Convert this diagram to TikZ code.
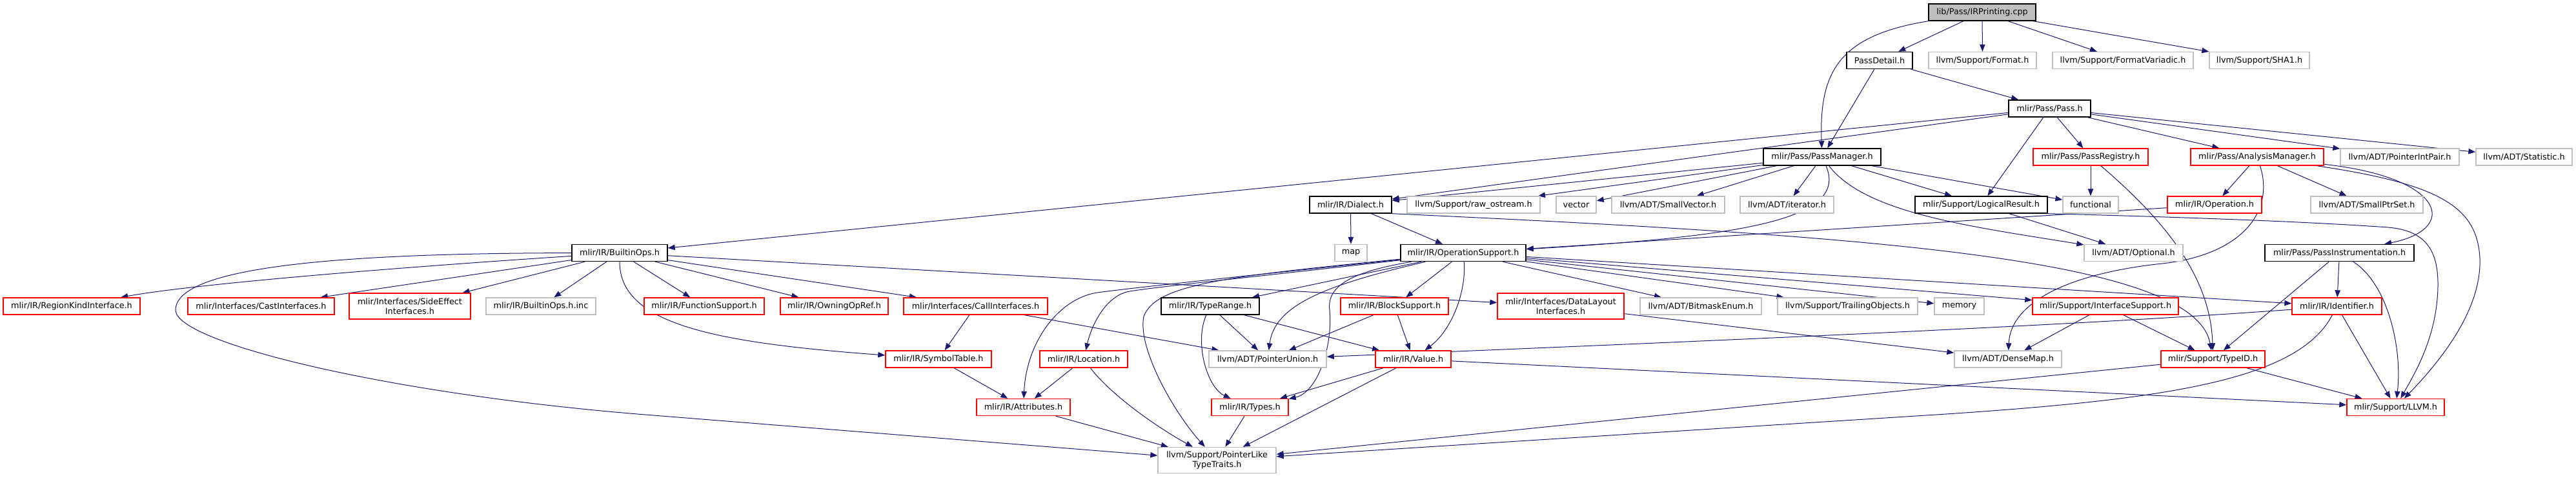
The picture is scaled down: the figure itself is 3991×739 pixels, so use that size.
\documentclass[tikz,border=0pt]{standalone}
\usepackage{fontspec}
\setmainfont{DejaVu Sans}
\usetikzlibrary{arrows.meta}
\definecolor{edgecol}{HTML}{191970}
\definecolor{redc}{HTML}{FF0000}
\definecolor{grayc}{HTML}{BFBFBF}
\pgfdeclarelayer{bg}
\pgfsetlayers{bg,main}
\begin{document}
\begin{tikzpicture}[x=0.5pt,y=-0.5pt,
  box/.style={rectangle, draw, fill=white, line width=0.7pt, inner sep=0pt, minimum height=13pt,
    align=center, font=\fontsize{6.4pt}{7.3pt}\selectfont},
  bw/.style={minimum width=#1*0.5pt},
  blk/.style={box, draw=black},
  redn/.style={box, draw=redc},
  grn/.style={box, draw=grayc},
  root/.style={box, draw=black, fill=grayc},
  two/.style={minimum height=20pt},
  dep/.style={draw=edgecol, line width=0.5pt, -{Triangle[length=5.5pt,width=4.2pt]}}]
\useasboundingbox (0,0) rectangle (3991,739);
% row A
\node[root,bw=166] (ir) at (3071,19) {lib/Pass/IRPrinting.cpp};
% row B
\node[blk,bw=102] (pd) at (2912,93.5) {PassDetail.h};
\node[grn,bw=167] (fmt) at (3071.5,93.5) {llvm/Support/Format.h};
\node[grn,bw=218] (fv) at (3289,93.5) {llvm/Support/FormatVariadic.h};
\node[grn,bw=155] (sha) at (3500.5,93.5) {llvm/Support/SHA1.h};
% row C
\node[blk,bw=127] (pass) at (3175.5,168) {mlir/Pass/Pass.h};
% row D
\node[blk,bw=182] (pm) at (2823,243) {mlir/Pass/PassManager.h};
\node[redn,bw=178] (preg) at (3239,243) {mlir/Pass/PassRegistry.h};
\node[redn,bw=206] (am) at (3497,243) {mlir/Pass/AnalysisManager.h};
\node[grn,bw=184] (pip) at (3718,243) {llvm/ADT/PointerIntPair.h};
\node[grn,bw=149] (stat) at (3910.5,243) {llvm/ADT/Statistic.h};
% row E
\node[blk,bw=127] (dia) at (2092.5,317) {mlir/IR/Dialect.h};
\node[grn,bw=206] (raw) at (2283,317) {llvm/Support/raw\_ostream.h};
\node[grn,bw=62] (vec) at (2442,317) {vector};
\node[grn,bw=175] (sv) at (2584.5,317) {llvm/ADT/SmallVector.h};
\node[grn,bw=145] (iter) at (2768.5,317) {llvm/ADT/iterator.h};
\node[blk,bw=205] (lr) at (3069.5,317) {mlir/Support/LogicalResult.h};
\node[grn,bw=86] (func) at (3239,317) {functional};
\node[redn,bw=146] (op) at (3431,317) {mlir/IR/Operation.h};
\node[grn,bw=174] (sps) at (3667,317) {llvm/ADT/SmallPtrSet.h};
% row F
\node[blk,bw=148] (bo) at (960,391.5) {mlir/IR/BuiltinOps.h};
\node[grn,bw=50] (map) at (2093,391.5) {map};
\node[blk,bw=194] (os) at (2267,391.5) {mlir/IR/OperationSupport.h};
\node[grn,bw=153] (opt) at (3305.5,391.5) {llvm/ADT/Optional.h};
\node[blk,bw=231] (pi) at (3624.5,391.5) {mlir/Pass/PassInstrumentation.h};
% row G
\node[redn,bw=212] (rk) at (111,474) {mlir/IR/RegionKindInterface.h};
\node[redn,bw=227] (ci) at (404.5,474) {mlir/Interfaces/CastInterfaces.h};
\node[redn,bw=188,two] (se) at (635,474) {mlir/Interfaces/SideEffect\\Interfaces.h};
\node[grn,bw=170] (inc) at (838,474) {mlir/IR/BuiltinOps.h.inc};
\node[redn,bw=186] (fs) at (1091,474) {mlir/IR/FunctionSupport.h};
\node[redn,bw=167] (oor) at (1292.5,474) {mlir/IR/OwningOpRef.h};
\node[redn,bw=223] (call) at (1511.5,474) {mlir/Interfaces/CallInterfaces.h};
\node[blk,bw=152] (tr) at (1875,474) {mlir/IR/TypeRange.h};
\node[redn,bw=167] (bs) at (2160.5,474) {mlir/IR/BlockSupport.h};
\node[redn,bw=196,two] (dl) at (2418,474) {mlir/Interfaces/DataLayout\\Interfaces.h};
\node[grn,bw=188] (be) at (2635,474) {llvm/ADT/BitmaskEnum.h};
\node[grn,bw=217] (to) at (2862.5,474) {llvm/Support/TrailingObjects.h};
\node[grn,bw=77] (mem) at (3035.5,474) {memory};
\node[redn,bw=226] (is) at (3262,474) {mlir/Support/InterfaceSupport.h};
\node[redn,bw=139] (id) at (3620.5,474) {mlir/IR/Identifier.h};
% row H
\node[redn,bw=164] (st) at (1454,556) {mlir/IR/SymbolTable.h};
\node[redn,bw=136] (loc) at (1679,556) {mlir/IR/Location.h};
\node[grn,bw=182] (pu) at (1964,556) {llvm/ADT/PointerUnion.h};
\node[redn,bw=117] (val) at (2189.5,556) {mlir/IR/Value.h};
\node[grn,bw=166] (dm) at (3111,556) {llvm/ADT/DenseMap.h};
\node[redn,bw=161] (tid) at (3428.5,556) {mlir/Support/TypeID.h};
% row I
\node[redn,bw=145] (attr) at (1585.5,630.5) {mlir/IR/Attributes.h};
\node[redn,bw=119] (ty) at (1936.5,630.5) {mlir/IR/Types.h};
\node[redn,bw=151] (llvm) at (3711.5,630.5) {mlir/Support/LLVM.h};
% row J
\node[grn,bw=183,two] (plt) at (1885.5,712.5) {llvm/Support/PointerLike\\TypeTraits.h};

\begin{pgfonlayer}{bg}
% IRPrinting
\draw[dep] (ir.south west) .. controls (2850,55) and (2818,110) .. (pm);
\draw[dep] (ir) -- (pd);
\draw[dep] (ir) -- (fmt);
\draw[dep] (ir) -- (fv);
\draw[dep] (ir) -- (sha);
% PassDetail
\draw[dep] (pd) -- (pm);
\draw[dep] (pd) -- (pass);
% Pass
\draw[dep] (pass) -- (bo);
\draw[dep] (pass) -- (dia);
\draw[dep] (pass) -- (preg);
\draw[dep] (pass) -- (am);
\draw[dep] (pass) -- (pip);
\draw[dep] (pass) -- (stat);
\draw[dep] (pass) -- (lr);
% PassManager
\draw[dep] (pm) -- (dia);
\draw[dep] (pm) -- (raw);
\draw[dep] (pm) -- (vec);
\draw[dep] (pm) -- (sv);
\draw[dep] (pm) -- (iter);
\draw[dep] (pm) -- (lr);
\draw[dep] (pm) -- (func);
\draw[dep] (pm) .. controls (2890,330) and (3050,350) .. (opt);
\draw[dep] (pm) .. controls (2865,340) and (2700,366) .. (os);
% PassRegistry
\draw[dep] (preg) -- (func);
\draw[dep] (preg) .. controls (3340,330) and (3425,420) .. (tid);
% AnalysisManager
\draw[dep] (am) -- (op);
\draw[dep] (am) -- (sps);
\draw[dep] (am) .. controls (3525,330) and (3470,395) .. (3350,408) .. controls (3200,424) and (3115,470) .. (dm);
\draw[dep] (am) .. controls (3790,275) and (3810,355) .. (pi);
\draw[dep] (am) .. controls (3780,285) and (3838,320) .. (3842,400) .. controls (3845,480) and (3780,560) .. (llvm);
% Operation
\draw[dep] (op) -- (os);
% Dialect
\draw[dep] (dia) -- (map);
\draw[dep] (dia) -- (os);
\draw[dep] (dia.south east) .. controls (2900,365) and (3400,400) .. (tid);
% LogicalResult
\draw[dep] (lr) -- (opt);
\draw[dep] (lr.south east) .. controls (3450,338) and (3600,345) .. (3700,352) .. controls (3760,357) and (3777,390) .. (3777,440) .. controls (3777,520) and (3740,580) .. (llvm);
% PassInstrumentation
\draw[dep] (pi) -- (tid);
\draw[dep] (pi) -- (id);
\draw[dep] (pi) .. controls (3700,440) and (3722,540) .. (llvm);
% OperationSupport
\draw[dep] (os) .. controls (1950,425) and (1750,446) .. (1700,453) .. controls (1640,462) and (1590,530) .. (attr);
\draw[dep] (os) .. controls (1950,428) and (1800,443) .. (1750,451) .. controls (1715,457) and (1692,500) .. (loc);
\draw[dep] (os) .. controls (1900,428) and (1790,440) .. (1772,490) .. controls (1762,540) and (1820,640) .. (plt);
\draw[dep] (os) -- (tr);
\draw[dep] (os) .. controls (2060,440) and (1975,470) .. (pu);
\draw[dep] (os) .. controls (2100,420) and (2055,440) .. (2060,480) .. controls (2065,540) and (2040,608) .. (ty);
\draw[dep] (os) -- (bs);
\draw[dep] (os) .. controls (2272,450) and (2250,510) .. (val);
\draw[dep] (os) -- (be);
\draw[dep] (os) -- (to);
\draw[dep] (os) -- (mem);
\draw[dep] (os) -- (is);
\draw[dep] (os) -- (id);
% BuiltinOps
\draw[dep] (bo) .. controls (600,415) and (300,440) .. (rk);
\draw[dep] (bo) -- (ci);
\draw[dep] (bo) -- (se);
\draw[dep] (bo) -- (inc);
\draw[dep] (bo) -- (fs);
\draw[dep] (bo) -- (oor);
\draw[dep] (bo) -- (call);
\draw[dep] (bo) -- (dl);
\draw[dep] (bo) .. controls (960,500) and (1100,530) .. (st);
\draw[dep] (bo) .. controls (550,392) and (272,410) .. (272,480) .. controls (272,530) and (600,610) .. (1000,642) -- (plt);
% CallInterfaces
\draw[dep] (call) -- (st);
\draw[dep] (call) -- (pu);
% SymbolTable, Location
\draw[dep] (st) -- (attr);
\draw[dep] (loc) -- (attr);
\draw[dep] (loc) .. controls (1720,610) and (1790,660) .. (plt);
% TypeRange
\draw[dep] (tr) .. controls (1850,530) and (1870,600) .. (ty);
\draw[dep] (tr) -- (pu);
\draw[dep] (tr) -- (val);
% BlockSupport
\draw[dep] (bs) -- (pu);
\draw[dep] (bs) -- (val);
% DataLayout
\draw[dep] (dl) -- (dm);
% InterfaceSupport
\draw[dep] (is) -- (dm);
\draw[dep] (is) -- (tid);
% Identifier
\draw[dep] (id) .. controls (3200,505) and (2600,530) .. (pu);
\draw[dep] (id) .. controls (3560,590) and (3350,619) .. (3000,642) -- (plt);
\draw[dep] (id) -- (llvm);
% TypeID
\draw[dep] (tid) -- (plt);
\draw[dep] (tid) -- (llvm);
% Value
\draw[dep] (val) -- (ty);
\draw[dep] (val) -- (plt);
\draw[dep] (val) -- (llvm);
% Attributes, Types
\draw[dep] (attr) -- (plt);
\draw[dep] (ty) -- (plt);
\end{pgfonlayer}
\end{tikzpicture}
\end{document}
